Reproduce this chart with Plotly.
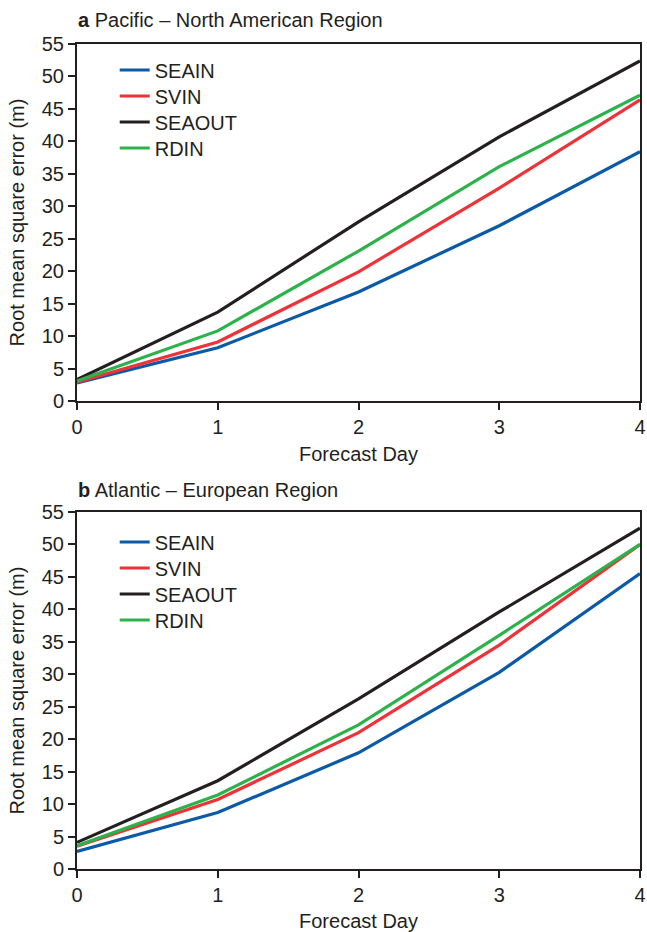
import plotly.graph_objects as go

days = [0, 1, 2, 3, 4]
series_names = ["SEAIN", "SVIN", "SEAOUT", "RDIN"]
colors = ["#0b5aa8", "#ee3238", "#231f20", "#2cb24b"]

pna_seain = [2.8, 8.2, 16.8, 27.0, 38.4]
pna_svin = [2.9, 9.1, 19.9, 32.8, 46.4]
pna_seaout = [3.3, 13.7, 27.6, 40.7, 52.4]
pna_rdin = [3.1, 10.8, 23.1, 36.1, 47.1]

ae_seain = [2.7, 8.7, 17.9, 30.3, 45.5]
ae_svin = [3.5, 10.7, 21.0, 34.5, 50.0]
ae_seaout = [4.1, 13.6, 26.2, 39.6, 52.5]
ae_rdin = [3.6, 11.4, 22.2, 36.0, 50.0]

panel_titles = ["<b>a</b> Pacific – North American Region", "<b>b</b> Atlantic – European Region"]
x_title = "Forecast Day"
y_title = "Root mean square error (m)"
y_ticks = list(range(0, 56, 5))
x_ticks = [0, 1, 2, 3, 4]

FONT = "Liberation Sans, Arial, sans-serif"
INK = "#231f20"
FS = 20

H = 825.0
def py(px):
    # px: vertical pixel position in window coordinates
    return (869 - px) / H

fig = go.Figure()
panels = [
    ("x", "y", [pna_seain, pna_svin, pna_seaout, pna_rdin], 70),
    ("x2", "y2", [ae_seain, ae_svin, ae_seaout, ae_rdin], 542),
]
legends = {}
k = 1
for xa, ya, vals, leg_top in panels:
    for i, (name, col, v) in enumerate(zip(series_names, colors, vals)):
        lg = "legend" if k == 1 else f"legend{k}"
        fig.add_trace(go.Scatter(x=days, y=v, name=name, mode="lines",
                                 line=dict(color=col, width=3.2), showlegend=True,
                                 xaxis=xa, yaxis=ya, legend=lg))
        legends[lg] = dict(x=0.067, y=py(leg_top + 26 * i), xanchor="left", yanchor="middle",
                           bgcolor="rgba(0,0,0,0)",
                           font=dict(family=FONT, size=FS, color=INK))
        k += 1

axis_common = dict(showgrid=False, zeroline=False, showline=True, linecolor=INK, linewidth=2,
                   mirror=True, ticks="outside", ticklen=7, tickwidth=2, tickcolor=INK,
                   automargin=False, ticklabeloverflow="allow",
                   tickfont=dict(family=FONT, size=FS, color=INK))

fig.update_layout(
    width=647, height=932,
    showlegend=True,
    margin=dict(l=77, r=7, t=44, b=63),
    paper_bgcolor="white", plot_bgcolor="white",
    font=dict(family=FONT, color=INK, size=FS),
    xaxis=dict(domain=[0, 1], range=[0, 4], tickvals=x_ticks, anchor="y",
               title=dict(text=x_title, font=dict(size=FS), standoff=10), **axis_common),
    yaxis=dict(domain=[py(401), 1], range=[0, 55], tickvals=y_ticks, anchor="x",
               title=dict(text=y_title, font=dict(size=FS), standoff=12), **axis_common),
    xaxis2=dict(domain=[0, 1], range=[0, 4], tickvals=x_ticks, anchor="y2",
                title=dict(text=x_title, font=dict(size=FS), standoff=10), **axis_common),
    yaxis2=dict(domain=[0, py(512)], range=[0, 55], tickvals=y_ticks, anchor="x2",
                title=dict(text=y_title, font=dict(size=FS), standoff=12), **axis_common),
    annotations=[
        dict(text=panel_titles[0], x=-0.002, y=py(20), xref="paper", yref="paper",
             xanchor="left", yanchor="middle", showarrow=False,
             font=dict(family=FONT, size=FS, color=INK)),
        dict(text=panel_titles[1], x=-0.002, y=py(490), xref="paper", yref="paper",
             xanchor="left", yanchor="middle", showarrow=False,
             font=dict(family=FONT, size=FS, color=INK)),
    ],
)
fig.update_layout(**legends)

fig.write_html("out.html", config={"displayModeBar": False},
               post_script="document.body.style.margin='0';")
